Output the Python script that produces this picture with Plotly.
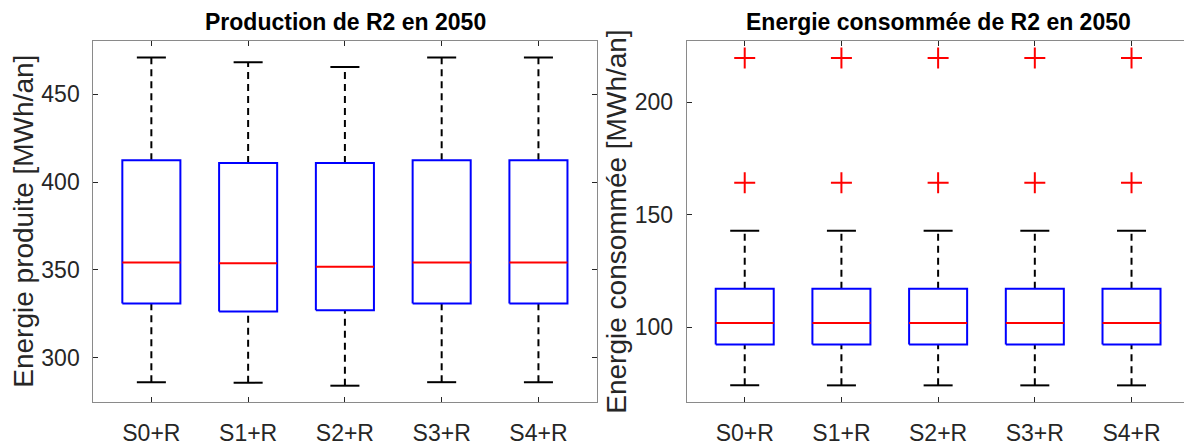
import plotly.graph_objects as go

# scenario labels (same for both panels)
labels = ["S0+R", "S1+R", "S2+R", "S3+R", "S4+R"]

# Production de R2 en 2050 [MWh/an]
prod_low = [286.0, 285.7, 284.0, 286.0, 286.0]
prod_q1 = [330.8, 326.2, 327.0, 330.8, 330.8]
prod_med = [354.2, 353.7, 351.7, 354.2, 354.2]
prod_q3 = [412.4, 410.8, 410.8, 412.4, 412.4]
prod_high = [471.0, 468.2, 465.6, 471.0, 471.0]

# Energie consommee de R2 en 2050 [MWh/an]
cons_low = [74.2, 74.2, 74.2, 74.2, 74.2]
cons_q1 = [92.4, 92.4, 92.4, 92.4, 92.4]
cons_med = [101.9, 101.9, 101.9, 101.9, 101.9]
cons_q3 = [117.1, 117.1, 117.1, 117.1, 117.1]
cons_high = [142.9, 142.9, 142.9, 142.9, 142.9]
cons_outliers = [[164.2, 219.6], [164.2, 219.6], [164.2, 219.6], [164.2, 219.6], [164.2, 219.6]]

FONT = "Liberation Sans, Arial, sans-serif"
TXT = "#262626"
HALF = 0.3   # half box width
CAP = 0.15   # half whisker cap width


def box_traces(low, q1, med, q3, high, outliers, xa, ya):
    bx, by, mx, my, wx, wy, cx, cy, ox, oy = [], [], [], [], [], [], [], [], [], []
    for i in range(len(med)):
        p = i + 1
        bx += [p - HALF, p + HALF, p + HALF, p - HALF, p - HALF, None]
        by += [q1[i], q1[i], q3[i], q3[i], q1[i], None]
        mx += [p - HALF, p + HALF, None]
        my += [med[i], med[i], None]
        wx += [p, p, None, p, p, None]
        wy += [q3[i], high[i], None, low[i], q1[i], None]
        cx += [p - CAP, p + CAP, None, p - CAP, p + CAP, None]
        cy += [high[i], high[i], None, low[i], low[i], None]
        if outliers:
            for v in outliers[i]:
                ox.append(p)
                oy.append(v)
    common = dict(xaxis=xa, yaxis=ya, hoverinfo="skip", showlegend=False)
    traces = [
        go.Scatter(x=wx, y=wy, mode="lines", line=dict(color="black", width=2, dash="7px,5px"), **common),
        go.Scatter(x=cx, y=cy, mode="lines", line=dict(color="black", width=2), **common),
        go.Scatter(x=bx, y=by, mode="lines", line=dict(color="#0000ff", width=2), **common),
        go.Scatter(x=mx, y=my, mode="lines", line=dict(color="#ff0000", width=2), **common),
    ]
    if ox:
        traces.append(go.Scatter(
            x=ox, y=oy, mode="markers",
            marker=dict(symbol="cross-thin", size=15, line=dict(color="#ff0000", width=2)),
            **common))
    return traces


fig = go.Figure()
for t in box_traces(prod_low, prod_q1, prod_med, prod_q3, prod_high, None, "x", "y"):
    fig.add_trace(t)
for t in box_traces(cons_low, cons_q1, cons_med, cons_q3, cons_high, cons_outliers, "x2", "y2"):
    fig.add_trace(t)

W, H = 1184, 446
left_dom = [93.3 / W, 596.5 / W]
right_dom = [686.7 / W, 1.0]
y_dom = [(H - 410.3) / H, (H - 42.3) / H]

xcommon = dict(
    tickvals=[1, 2, 3, 4, 5], ticktext=labels, ticks="inside", ticklen=5,
    tickcolor=TXT, showline=True, linecolor="#8a8a8a", linewidth=1,
    showgrid=False, zeroline=False, tickfont=dict(family=FONT, size=23, color=TXT),
    ticklabelstandoff=10,
)
ycommon = dict(
    ticks="inside", ticklen=5, tickcolor=TXT, showline=True, linecolor="#8a8a8a",
    linewidth=1, showgrid=False, zeroline=False,
    tickfont=dict(family=FONT, size=23, color=TXT), ticklabelstandoff=8,
)

fig.update_layout(
    width=W, height=H, margin=dict(l=0, r=0, t=0, b=0),
    paper_bgcolor="white", plot_bgcolor="white",
    xaxis=dict(domain=left_dom, range=[0.4, 5.6], mirror="ticks", anchor="y", **xcommon),
    yaxis=dict(domain=y_dom, range=[274.7, 480.1], tickvals=[300, 350, 400, 450],
               mirror="ticks", anchor="x", **ycommon),
    xaxis2=dict(domain=right_dom, range=[0.4, 0.4 + (W - 686.7) / 96.7], mirror="ticks",
                anchor="y2", **xcommon),
    yaxis2=dict(domain=y_dom, range=[66.8, 227.0], tickvals=[100, 150, 200],
                mirror=False, anchor="x2", **ycommon),
)

# titles and y-axis labels
fig.add_annotation(text="<b>Production de R2 en 2050</b>", xref="paper", yref="paper",
                   x=345 / W, y=(H - 22) / H, showarrow=False, xanchor="center", yanchor="middle",
                   font=dict(family=FONT, size=23, color="black"))
fig.add_annotation(text="<b>Energie consommée de R2 en 2050</b>", xref="paper", yref="paper",
                   x=938 / W, y=(H - 22) / H, showarrow=False, xanchor="center", yanchor="middle",
                   font=dict(family=FONT, size=23, color="black"))
fig.add_annotation(text="Energie produite [MWh/an]", xref="paper", yref="paper",
                   x=24 / W, y=(H - 226.3) / H, textangle=-90, showarrow=False,
                   xanchor="center", yanchor="middle", font=dict(family=FONT, size=28, color=TXT))
fig.add_annotation(text="Energie consommée [MWh/an]", xref="paper", yref="paper",
                   x=617 / W, y=(H - 226.3) / H, textangle=-90, showarrow=False,
                   xanchor="center", yanchor="middle", font=dict(family=FONT, size=28, color=TXT))

# the page body has a default 8px margin; drop it so the figure fills the window
fig.write_html("out.html", config={"displayModeBar": False},
               post_script="document.body.style.margin = '0';")
